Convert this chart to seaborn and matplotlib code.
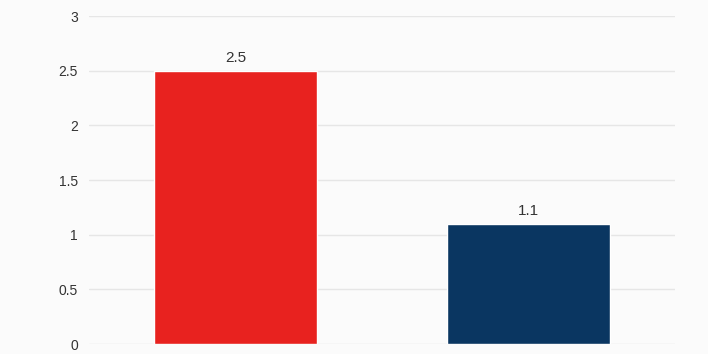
import matplotlib
matplotlib.use("Agg")
import matplotlib.pyplot as plt
import seaborn as sns
import pandas as pd

categories = ["Series 1", "Series 2"]
values = [2.5, 1.1]
colors = ["#e8221f", "#0a3661"]
yticks = [0, 0.5, 1, 1.5, 2, 2.5, 3]
ytick_labels = ["0", "0.5", "1", "1.5", "2", "2.5", "3"]

sns.set_theme(style="white")
plt.rcParams['font.family'] = ['Liberation Sans', 'DejaVu Sans']

df = pd.DataFrame({"cat": categories, "val": values})
fig = plt.figure(figsize=(7.08, 3.54), dpi=100, facecolor="#fbfbfb")
ax = fig.add_axes([0.1257, 0.0282, 0.8277, 0.9266])
ax.set_facecolor("#fbfbfb")
sns.barplot(data=df, x="cat", y="val", hue="cat", palette=colors, width=0.555,
            legend=False, ax=ax, saturation=1)
ax.set_xlim(-0.5, 1.5)
ax.set_ylim(0, 3)
ax.set_yticks(yticks)
ax.set_yticklabels(ytick_labels, fontsize=10, color="#333333")
ax.tick_params(axis="y", length=0, pad=8)
ax.set_xticks([])
ax.set_xlabel("")
ax.set_ylabel("")
for s in ax.spines.values():
    s.set_visible(False)
ax.yaxis.grid(True, color="#e6e6e6", linewidth=1)
ax.set_axisbelow(True)
for i, v in enumerate(values):
    ax.text(i, v + 0.05, f"{v}", ha="center", va="bottom", fontsize=11, color="#333333")
fig.savefig("out.png", dpi=100, facecolor=fig.get_facecolor())
